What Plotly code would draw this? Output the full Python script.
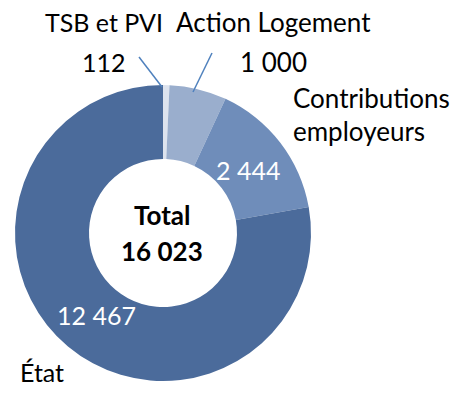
import plotly.graph_objects as go

labels = ["TSB et PVI", "Action Logement", "Contributions employeurs", "État"]
values = [112, 1000, 2444, 12467]
colors = ["#dde3ee", "#9aaecd", "#6f8dba", "#4b6b9b"]
total_label = "Total"

W, H = 470, 404
FONT = "Lato"

def fmt(v):
    return f"{v:,}".replace(",", " ")

def px(x):
    return x / W

def py(y):
    return 1 - y / H

cx, cy, r = 163, 233, 148

fig = go.Figure(go.Pie(
    labels=labels, values=values, sort=False, direction="clockwise", rotation=0,
    hole=0.5, marker=dict(colors=colors, line=dict(width=0)),
    textinfo="none", hoverinfo="label+value", showlegend=False,
    domain=dict(x=[px(cx - r), px(cx + r)], y=[py(cy + r), py(cy - r)]),
))

ann = []
def add(text, x, y, color="black", size=26, bold=False, xanchor="center"):
    if bold:
        text = f"<b>{text}</b>"
    ann.append(dict(text=text, x=px(x), y=py(y), xref="paper", yref="paper",
                    showarrow=False, xanchor=xanchor, yanchor="middle",
                    font=dict(family=FONT, size=size, color=color)))

add(labels[0], 104, 22, size=25)
add(fmt(values[0]), 104, 62, size=25)
add(labels[1], 273, 22)
add(fmt(values[1]), 273, 62)
add("Contributions", 291, 98, xanchor="left")
add("employeurs", 291, 131, xanchor="left")
add(fmt(values[2]), 248, 170, color="white", size=25)
add(fmt(values[3]), 96, 315, color="white", size=25)
add(labels[3], 42, 372, size=25)
add(total_label, 162, 215, bold=True, size=26)
add(fmt(sum(values)), 162, 251, bold=True, size=26)

shapes = [
    dict(type="line", xref="paper", yref="paper", x0=px(139), y0=py(57), x1=px(162), y1=py(87),
         line=dict(color="#4f81bd", width=1.5)),
    dict(type="line", xref="paper", yref="paper", x0=px(212), y0=py(53), x1=px(193), y1=py(92),
         line=dict(color="#4f81bd", width=1.5)),
]

fig.update_layout(width=W, height=H, margin=dict(l=0, r=0, t=0, b=0),
                  paper_bgcolor="white", plot_bgcolor="white",
                  annotations=ann, shapes=shapes)
fig.write_html("out.html", config={"displayModeBar": False},
               post_script="document.body.style.margin='0';document.body.style.overflow='hidden';")
